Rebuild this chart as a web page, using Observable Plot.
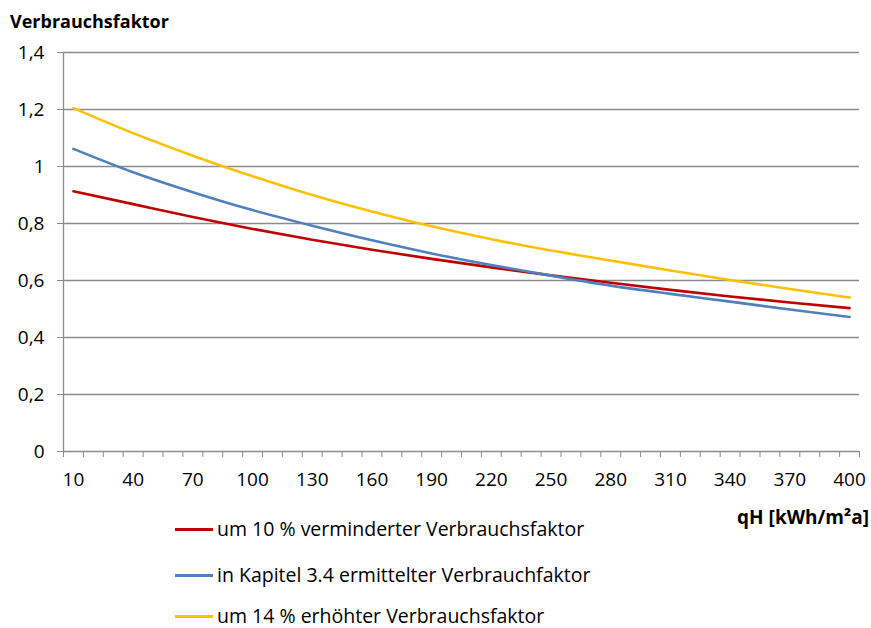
<!DOCTYPE html>
<html>
<head>
<meta charset="utf-8">
<script src="https://cdn.jsdelivr.net/npm/d3@7"></script>
<script src="https://cdn.jsdelivr.net/npm/@observablehq/plot@0.6"></script>
<style>
  html, body { margin: 0; padding: 0; background: #fff; }
  #wrap { position: relative; width: 871px; height: 628px; font-family: "Open Sans", sans-serif; color: #000; }
  #title { position: absolute; left: 10px; top: 21px; transform: translateY(-50%); font-weight: bold; font-size: 18px; line-height: 22px; }
  #xlabel { position: absolute; right: 2px; top: 517px; transform: translateY(-50%); font-weight: bold; font-size: 19px; line-height: 22px; }
  #chart { position: absolute; left: 0; top: 0; }
  .leg { position: absolute; left: 175px; font-size: 19.5px; line-height: 20px; transform: translateY(-50%); display: flex; align-items: center; white-space: nowrap; }
  .sw { width: 38px; height: 3px; margin-right: 4px; }
</style>
</head>
<body>
<div id="wrap">
  <div id="chart"></div>
  <div id="title">Verbrauchsfaktor</div>
  <div id="xlabel">qH [kWh/m²a]</div>
  <div id="legend"></div>
</div>
<script>
// x categories (qH in kWh/m²a)
const qH = [10, 40, 70, 100, 130, 160, 190, 220, 250, 280, 310, 340, 370, 400];
// series values
const reduced  = [0.913, 0.868, 0.823, 0.781, 0.743, 0.708, 0.676, 0.646, 0.618, 0.592, 0.567, 0.544, 0.523, 0.503];
const base     = [1.062, 0.980, 0.910, 0.847, 0.792, 0.741, 0.695, 0.654, 0.617, 0.582, 0.553, 0.526, 0.498, 0.472];
const increased= [1.205, 1.117, 1.038, 0.966, 0.900, 0.842, 0.790, 0.745, 0.705, 0.670, 0.635, 0.602, 0.570, 0.540];
const seriesNames = [
  "um 10 % verminderter Verbrauchsfaktor",
  "in Kapitel 3.4 ermittelter Verbrauchfaktor",
  "um 14 % erhöhter Verbrauchsfaktor"
];
const seriesColors = ["#C00000", "#4F81BD", "#FFC000"];
const xTickLabels = [10, 40, 70, 100, 130, 160, 190, 220, 250, 280, 310, 340, 370, 400];
const yTicks = [0, 0.2, 0.4, 0.6, 0.8, 1.0, 1.2, 1.4];

const seriesValues = [reduced, base, increased];
const data = seriesNames.flatMap((name, i) => qH.map((x, j) => ({series: name, x, y: seriesValues[i][j]})));
const minorTicks = d3.range(5, 406, 10);
const grid = "#8c8c8c";
const fmtY = d => String(+d.toFixed(1)).replace(".", ",");

const chart = Plot.plot({
  width: 871,
  height: 500,
  marginLeft: 63,
  marginRight: 12,
  marginTop: 52,
  marginBottom: 49,
  style: {fontFamily: "Open Sans, sans-serif", fontSize: "19px", color: "#000", background: "#fff"},
  x: {domain: [5, 405], axis: null},
  y: {domain: [0, 1.4], axis: null},
  color: {domain: seriesNames, range: seriesColors},
  marks: [
    Plot.ruleY(yTicks, {stroke: grid, strokeWidth: 1.3}),
    Plot.ruleX([5], {stroke: grid, strokeWidth: 1.3}),
    Plot.axisY({ticks: yTicks, tickFormat: fmtY, tickSize: 6, tickPadding: 13, stroke: grid, fill: "#000", fontSize: 19, label: null}),
    Plot.axisX({ticks: minorTicks, tickFormat: () => "", tickSize: 6, stroke: grid, label: null}),
    Plot.axisX({ticks: xTickLabels, tickSize: 0, tickPadding: 21, fill: "#000", fontSize: 19, label: null}),
    Plot.line(data, {x: "x", y: "y", z: "series", stroke: "series", strokeWidth: 2.6, curve: "monotone-x"})
  ]
});
document.getElementById("chart").appendChild(chart);

const legend = document.getElementById("legend");
const rowCenters = [529, 575, 616];
seriesNames.forEach((name, i) => {
  const row = document.createElement("div");
  row.className = "leg";
  row.style.top = rowCenters[i] + "px";
  const sw = document.createElement("div");
  sw.className = "sw";
  sw.style.background = seriesColors[i];
  const t = document.createElement("span");
  t.textContent = name;
  row.appendChild(sw);
  row.appendChild(t);
  legend.appendChild(row);
});
</script>
</body>
</html>
